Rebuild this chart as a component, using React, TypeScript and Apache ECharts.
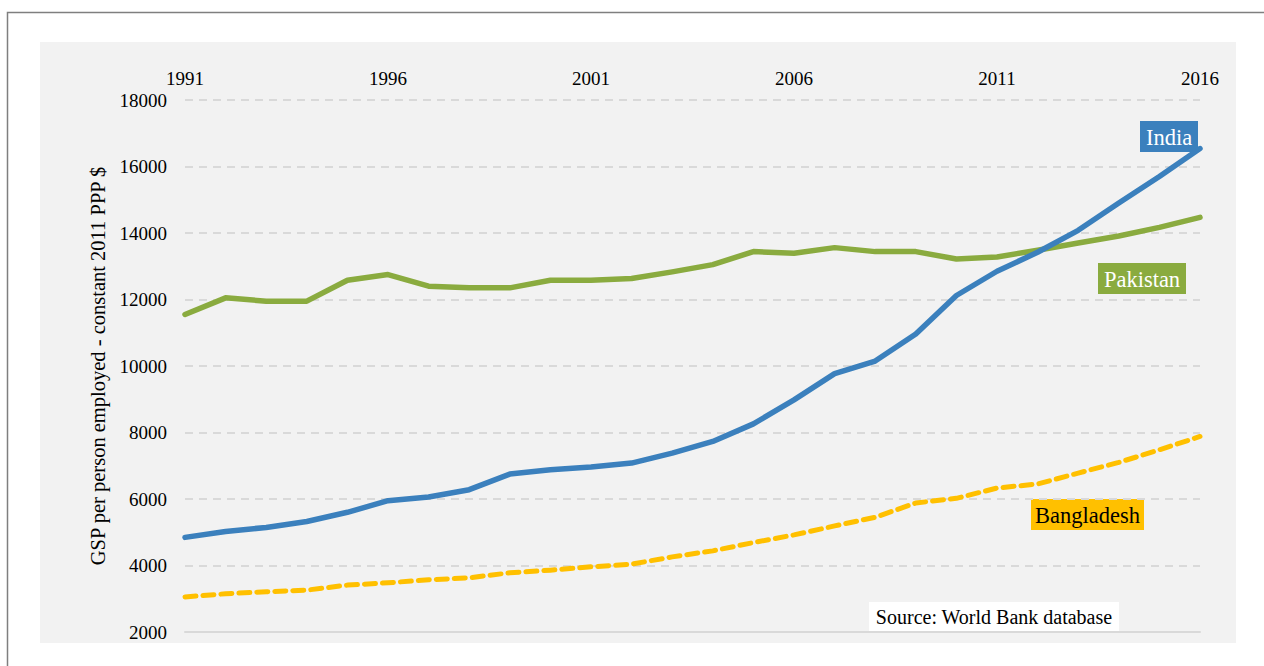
import React, { useEffect, useRef } from "react";
import * as echarts from "echarts";

const years = [
  "1991", "1992", "1993", "1994", "1995", "1996", "1997", "1998", "1999", "2000",
  "2001", "2002", "2003", "2004", "2005", "2006", "2007", "2008", "2009", "2010",
  "2011", "2012", "2013", "2014", "2015", "2016",
];

const india = [
  4845, 5025, 5145, 5325, 5600, 5950, 6060, 6280, 6750, 6880,
  6960, 7080, 7380, 7730, 8260, 8980, 9770, 10150, 10960, 12120,
  12850, 13420, 14080, 14900, 15700, 16540,
];

const pakistan = [
  11550, 12050, 11950, 11950, 12580, 12750, 12400, 12350, 12350, 12580,
  12580, 12630, 12830, 13050, 13440, 13390, 13560, 13440, 13440, 13220,
  13280, 13480, 13700, 13910, 14170, 14470,
];

const bangladesh = [
  3055, 3150, 3210, 3260, 3410, 3480, 3570, 3630, 3780, 3860,
  3960, 4040, 4260, 4440, 4690, 4920, 5190, 5450, 5880, 6020,
  6330, 6450, 6780, 7100, 7480, 7880,
];

const yAxisTitle = "GSP per person employed - constant 2011 PPP $";
const sourceText = "Source: World Bank database";

const FONT = "'Liberation Serif', 'Times New Roman', serif";

export default function App() {
  const ref = useRef<HTMLDivElement>(null);

  useEffect(() => {
    if (!ref.current) return;
    const chart = echarts.init(ref.current, undefined, { renderer: "svg" });

    const label = (
      x: number, y: number, w: number, h: number, fill: string, text: string, color: string
    ) => ({
      type: "group",
      x,
      y,
      z: 50,
      children: [
        { type: "rect", shape: { x: 0, y: 0, width: w, height: h }, style: { fill } },
        {
          type: "text",
          x: w / 2,
          y: h / 2 + 1,
          style: {
            text,
            fill: color,
            font: `22.5px ${FONT}`,
            align: "center",
            verticalAlign: "middle",
          },
        },
      ],
    });

    chart.setOption({
      animation: false,
      backgroundColor: "#ffffff",
      textStyle: { fontFamily: FONT },
      graphic: [
        {
          type: "rect",
          z: -10,
          shape: { x: 40, y: 42, width: 1196, height: 601 },
          style: { fill: "#f2f2f2" },
        },
        {
          type: "polyline",
          z: -5,
          shape: { points: [[7.5, 700], [7.5, 12.5], [1300, 12.5]] },
          style: { fill: null, stroke: "#7f7f7f", lineWidth: 1.5 },
        },
        label(1140, 121, 58, 31, "#3b80bd", "India", "#ffffff"),
        label(1098, 263, 88, 31, "#8aab3f", "Pakistan", "#ffffff"),
        label(1031, 499, 113, 31, "#ffc000", "Bangladesh", "#000000"),
        {
          type: "group",
          x: 869,
          y: 602,
          z: 40,
          children: [
            { type: "rect", shape: { x: 0, y: 0, width: 250, height: 29 }, style: { fill: "#ffffff" } },
            {
              type: "text",
              x: 125,
              y: 15,
              style: {
                text: sourceText,
                fill: "#000000",
                font: `20px ${FONT}`,
                align: "center",
                verticalAlign: "middle",
              },
            },
          ],
        },
      ],
      grid: { left: 185, right: 64, top: 100, bottom: 34 },
      xAxis: [
        {
          type: "category",
          data: years,
          boundaryGap: false,
          position: "bottom",
          axisLine: { show: true, lineStyle: { color: "#d9d9d9", width: 2 } },
          axisTick: { show: false },
          axisLabel: { show: false },
          splitLine: { show: false },
        },
        {
          type: "category",
          data: years,
          boundaryGap: false,
          position: "top",
          axisLine: { show: false },
          axisTick: { show: false },
          axisLabel: {
            interval: 4,
            margin: 12,
            color: "#000000",
            fontSize: 19,
            fontFamily: FONT,
          },
          splitLine: { show: false },
        },
      ],
      yAxis: {
        type: "value",
        min: 2000,
        max: 18000,
        interval: 2000,
        name: yAxisTitle,
        nameLocation: "middle",
        nameRotate: 90,
        nameGap: 70,
        nameTextStyle: { color: "#000000", fontSize: 20.5, fontFamily: FONT },
        axisLine: { show: false },
        axisTick: { show: false },
        axisLabel: {
          color: "#000000",
          fontSize: 19,
          margin: 18,
          fontFamily: FONT,
          formatter: (v: number) => String(v),
        },
        splitLine: { show: true, lineStyle: { color: "#d9d9d9", width: 2, type: [8, 6] } },
      },
      series: [
        {
          name: "India",
          type: "line",
          data: india,
          xAxisIndex: 0,
          symbol: "none",
          lineStyle: { color: "#3b80bd", width: 5.5, cap: "round", join: "round" },
          z: 5,
        },
        {
          name: "Pakistan",
          type: "line",
          data: pakistan,
          xAxisIndex: 0,
          symbol: "none",
          lineStyle: { color: "#8aab3f", width: 5.5, cap: "round", join: "round" },
          z: 4,
        },
        {
          name: "Bangladesh",
          type: "line",
          data: bangladesh,
          xAxisIndex: 0,
          symbol: "none",
          lineStyle: { color: "#ffc000", width: 5, type: [11, 7], cap: "round", join: "round" },
          z: 3,
        },
      ],
    });

    return () => chart.dispose();
  }, []);

  return (
    <div
      ref={ref}
      style={{ position: "fixed", left: 0, top: 0, width: 1264, height: 666 }}
    />
  );
}
